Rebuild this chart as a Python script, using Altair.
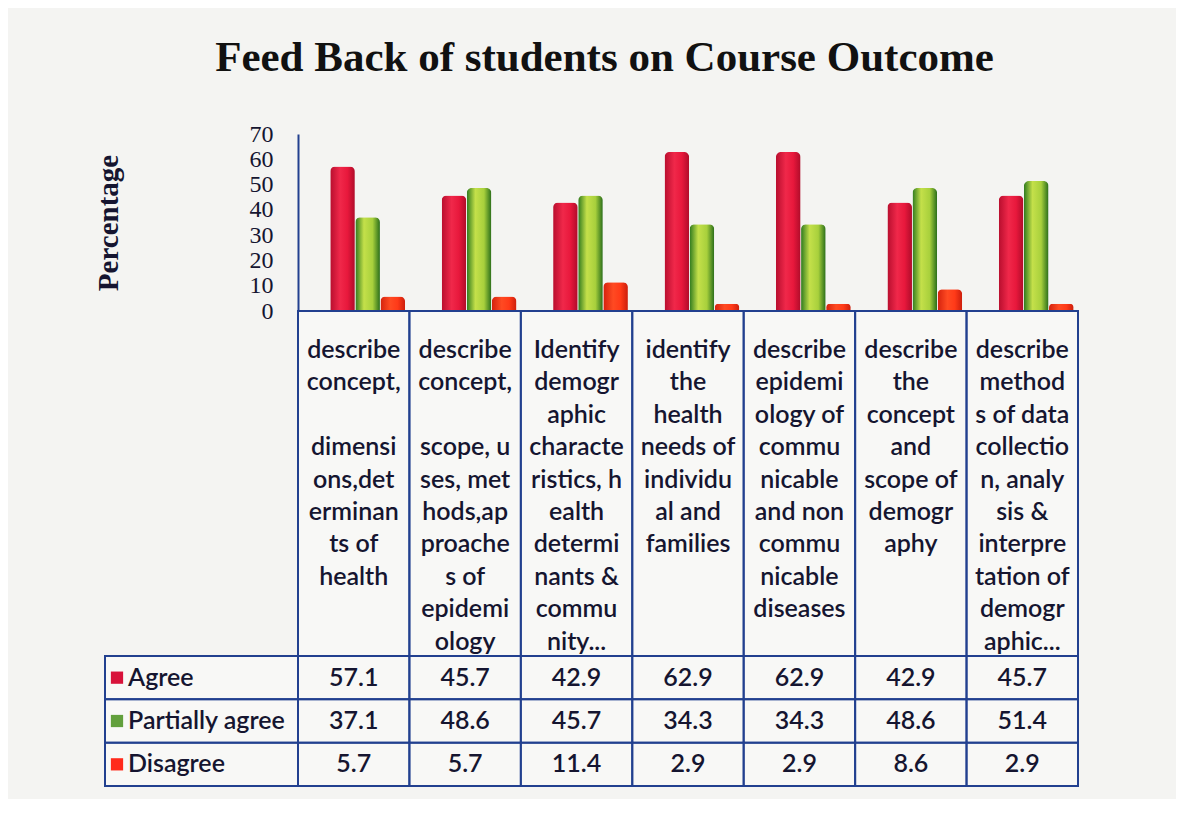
import altair as alt
import pandas as pd

# ---------------- data ----------------
categories = ["CO1", "CO2", "CO3", "CO4", "CO5", "CO6", "CO7"]
category_lines = [
    ["describe", "concept,", "", "dimensi", "ons,det", "erminan", "ts of", "health"],
    ["describe", "concept,", "", "scope, u", "ses, met", "hods,ap", "proache", "s of",
     "epidemi", "ology"],
    ["Identify", "demogr", "aphic", "characte", "ristics, h", "ealth", "determi", "nants &",
     "commu", "nity..."],
    ["identify", "the", "health", "needs of", "individu", "al and", "families"],
    ["describe", "epidemi", "ology of", "commu", "nicable", "and non", "commu", "nicable",
     "diseases"],
    ["describe", "the", "concept", "and", "scope of", "demogr", "aphy"],
    ["describe", "method", "s of data", "collectio", "n, analy", "sis &", "interpre",
     "tation of", "demogr", "aphic..."],
]
series = ["Agree", "Partially agree", "Disagree"]
agree = [57.1, 45.7, 42.9, 62.9, 62.9, 42.9, 45.7]
partially_agree = [37.1, 48.6, 45.7, 34.3, 34.3, 48.6, 51.4]
disagree = [5.7, 5.7, 11.4, 2.9, 2.9, 8.6, 2.9]
y_ticks = [0, 10, 20, 30, 40, 50, 60, 70]

rows = []
for s, vals in zip(series, [agree, partially_agree, disagree]):
    for c, v in zip(categories, vals):
        rows.append({"cat": c, "series": s, "value": v})
df = pd.DataFrame(rows)
cat_df = pd.DataFrame({"cat": categories})
line_rows = []
for c, lines in zip(categories, category_lines):
    for i, t in enumerate(lines):
        if t:
            line_rows.append({"cat": c, "line": i, "text": t})
lines_df = pd.DataFrame(line_rows)

# ---------------- style ----------------
W = 780
NAVY = "#22408f"
TXT = "#151530"
KEY_COLORS = ["#d8123a", "#62a03c", "#ff2a1c"]
SANS = "Lato"
SERIF = "Liberation Serif"
FW = 600
LABEL_H = 345
LINE_H = 32.4
FIRST = 27

grads = {
    "Agree": [("#b80e2e", 0), ("#f0284a", 0.4), ("#e8183c", 0.7), ("#b00c2a", 1)],
    "Partially agree": [("#2f7a1e", 0), ("#c4e04a", 0.35), ("#a8d03c", 0.7), ("#2a6e1a", 1)],
    "Disagree": [("#d4220e", 0), ("#ff4a22", 0.4), ("#ff3a18", 0.7), ("#cc1e0c", 1)],
}

x_enc = alt.X("cat:N", sort=categories,
              scale=alt.Scale(domain=categories, paddingInner=0, paddingOuter=0),
              axis=None)

# ---------------- bar chart ----------------
layers = []
for s in series:
    g = alt.LinearGradient(
        gradient="linear", x1=0, x2=1, y1=0, y2=0,
        stops=[alt.GradientStop(offset=o, color=c) for c, o in grads[s]],
    )
    layers.append(
        alt.Chart(df).transform_filter(alt.datum.series == s)
        .mark_bar(color=g, cornerRadiusTopLeft=5, cornerRadiusTopRight=5)
        .encode(
            x=x_enc,
            xOffset=alt.XOffset("series:N",
                                scale=alt.Scale(domain=series, paddingInner=0.02,
                                                paddingOuter=0.73, align=0.88)),
            y=alt.Y("value:Q",
                    scale=alt.Scale(domain=[0, 70], nice=False, zero=True),
                    axis=alt.Axis(values=y_ticks, title="Percentage",
                                  titleFont=SERIF, titleFontSize=29, titleFontWeight="bold",
                                  titleColor=TXT, titlePadding=126,
                                  labelFont=SERIF, labelFontSize=24, labelColor=TXT,
                                  labelPadding=25, ticks=False, grid=False,
                                  domainColor=NAVY, domainWidth=2)),
        )
    )

bars = alt.layer(*layers).properties(width=W, height=177)

# ---------------- category label row ----------------
label_cells = alt.Chart(cat_df).mark_rect(fill="white", fillOpacity=0.35,
                                           stroke=NAVY, strokeWidth=2).encode(
    x=x_enc, y=alt.value(0), y2=alt.value(LABEL_H)
)
lo = -FIRST / LINE_H
hi = (LABEL_H - FIRST) / LINE_H
label_text = alt.Chart(lines_df).mark_text(
    baseline="top", align="center", font=SANS, fontSize=25,
    fontWeight=FW, color=TXT
).encode(
    x=x_enc,
    y=alt.Y("line:Q", scale=alt.Scale(domain=[hi, lo], nice=False, zero=False), axis=None),
    text="text:N",
)
label_row = alt.layer(label_cells, label_text).properties(width=W, height=LABEL_H)

# ---------------- value table ----------------
y_rows = alt.Y("series:N", sort=series,
               scale=alt.Scale(domain=series, paddingInner=0, paddingOuter=0),
               axis=None)
cells = alt.Chart(df).mark_rect(fill="white", fillOpacity=0.35,
                                stroke=NAVY, strokeWidth=2).encode(x=x_enc, y=y_rows)
vals = alt.Chart(df).mark_text(font=SANS, fontSize=25, fontWeight=FW, color=TXT).encode(
    x=x_enc, y=y_rows, text=alt.Text("value:Q", format=".1f")
)
leg_df = pd.DataFrame({"series": series})
leg_cells = alt.Chart(leg_df).mark_rect(fill="white", fillOpacity=0.35,
                                        stroke=NAVY, strokeWidth=2).encode(
    x=alt.value(-193), x2=alt.value(0), y=y_rows
)
leg_keys = alt.Chart(leg_df).mark_square(size=150, opacity=1).encode(
    x=alt.value(-181), y=y_rows,
    color=alt.Color("series:N", scale=alt.Scale(domain=series, range=KEY_COLORS),
                    legend=None),
)
leg_text = alt.Chart(leg_df).mark_text(align="left", font=SANS, fontSize=25,
                                       fontWeight=FW, color=TXT).encode(
    x=alt.value(-170), y=y_rows, text="series:N"
)
table = alt.layer(cells, vals, leg_cells, leg_keys, leg_text).properties(width=W, height=130)

chart = alt.vconcat(bars, label_row, table, spacing=0, bounds="flush").resolve_scale(
    y="independent"
).properties(
    title=alt.TitleParams("Feed Back of students on Course Outcome",
                          font=SERIF, fontSize=43, fontWeight="bold", color="#111111",
                          anchor="middle", offset=42, dx=18),
    padding={"left": 86, "top": 29, "right": 97, "bottom": 12},
    background="#f4f4f2",
).configure_view(strokeWidth=0)

chart.save("out.html", embed_options={"renderer": "svg", "actions": False})
